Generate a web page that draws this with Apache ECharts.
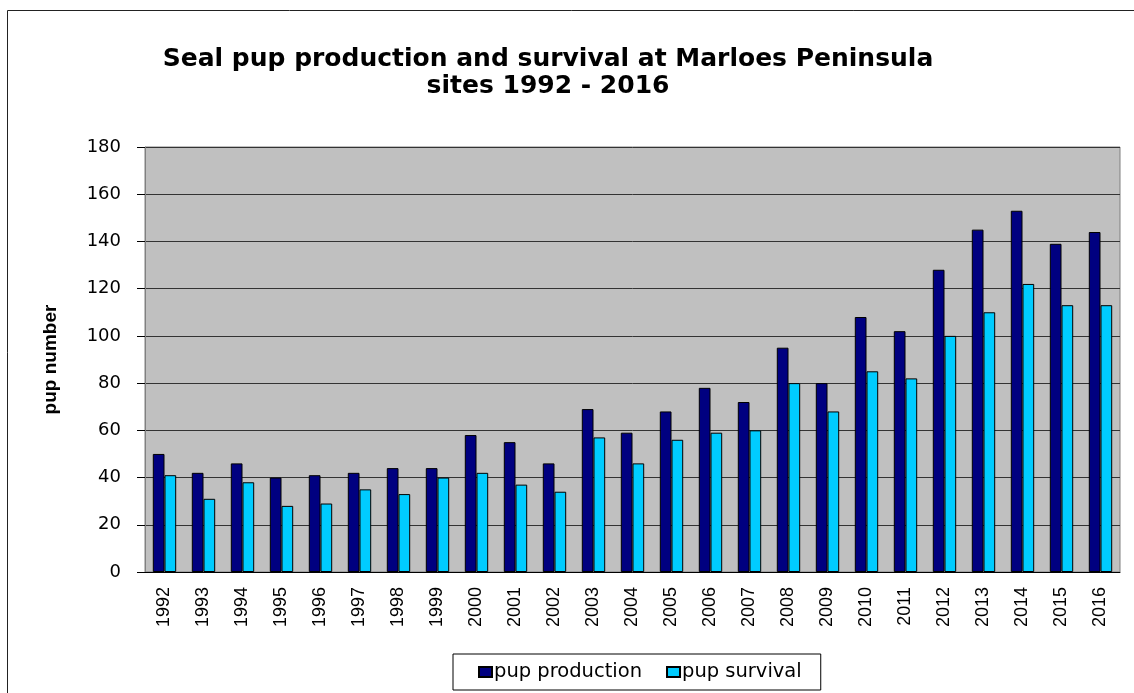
<!DOCTYPE html>
<html>
<head>
<meta charset="utf-8">
<script src="https://cdn.jsdelivr.net/npm/echarts@6/dist/echarts.min.js"></script>
<style>
  html, body { margin: 0; padding: 0; background: #fff; }
  #chart { width: 1134px; height: 693px; }
</style>
</head>
<body>
<div id="chart"></div>
<script>
var years = ['1992', '1993', '1994', '1995', '1996', '1997', '1998', '1999', '2000', '2001',
  '2002', '2003', '2004', '2005', '2006', '2007', '2008', '2009', '2010', '2011',
  '2012', '2013', '2014', '2015', '2016'];
var production = [50, 42, 46, 40, 41, 42, 44, 44, 58, 55, 46, 69, 59, 68, 78, 72, 95, 80, 108, 102, 128, 145, 153, 139, 144];
var survival = [41, 31, 38, 28, 29, 35, 33, 40, 42, 37, 34, 57, 46, 56, 59, 60, 80, 68, 85, 82, 100, 110, 122, 113, 113];

// the original looks horizontally stretched, so the wider DejaVu face is used for upright text
var font = '"Liberation Sans", Arial, sans-serif';
var wide = '"DejaVu Sans", sans-serif';

var option = {
  animation: false,
  textStyle: { fontFamily: font },
  graphic: [{
    type: 'rect',
    shape: { x: 7.5, y: 10.5, width: 1140, height: 700 },
    style: { fill: 'none', stroke: '#222', lineWidth: 1 },
    silent: true,
    z: -10
  }],
  title: {
    text: 'Seal pup production and survival at Marloes Peninsula\nsites 1992 - 2016',
    left: 543,
    top: 41,
    textAlign: 'center',
    textStyle: {
      fontFamily: wide,
      fontSize: 25,
      fontWeight: 'bold',
      color: '#000',
      lineHeight: 27
    }
  },
  legend: {
    left: 453,
    top: 654,
    orient: 'horizontal',
    padding: [8, 19, 8, 25],
    borderColor: '#000',
    borderWidth: 1,
    itemWidth: 13,
    itemHeight: 10,
    itemGap: 24,
    icon: 'rect',
    textStyle: { fontFamily: wide, fontSize: 19.5, color: '#000', padding: [0, 0, 0, -3] },
    data: ['pup production', 'pup survival']
  },
  grid: {
    left: 145,
    right: 14,
    top: 147,
    bottom: 121,
    show: true,
    backgroundColor: '#C0C0C0',
    borderColor: '#808080',
    borderWidth: 1
  },
  xAxis: {
    type: 'category',
    data: years,
    axisLine: { lineStyle: { color: '#000', width: 1 } },
    axisTick: { alignWithLabel: false, length: 6, lineStyle: { color: '#000' } },
    axisLabel: {
      rotate: 90,
      margin: 15,
      fontFamily: font,
      fontSize: 18,
      color: '#000'
    }
  },
  yAxis: {
    type: 'value',
    min: 0,
    max: 180,
    interval: 20,
    name: 'pup number',
    nameLocation: 'middle',
    nameGap: 85,
    nameTextStyle: { fontFamily: font, fontSize: 19, fontWeight: 'bold', color: '#000' },
    axisLine: { show: true, lineStyle: { color: '#808080' } },
    axisTick: { show: true, length: 8, lineStyle: { color: '#000' } },
    axisLabel: { margin: 24, fontFamily: wide, fontSize: 18, color: '#000' },
    splitLine: { lineStyle: { color: '#333', width: 1 } }
  },
  series: [
    {
      name: 'pup production',
      type: 'bar',
      data: production,
      barGap: '0%',
      barCategoryGap: '40%',
      itemStyle: { color: '#000080', borderColor: '#000', borderWidth: 1 }
    },
    {
      name: 'pup survival',
      type: 'bar',
      data: survival,
      itemStyle: { color: '#00CCFF', borderColor: '#000', borderWidth: 1 }
    }
  ]
};

var chart = echarts.init(document.getElementById('chart'), null, { renderer: 'canvas' });
chart.setOption(option);
</script>
</body>
</html>
